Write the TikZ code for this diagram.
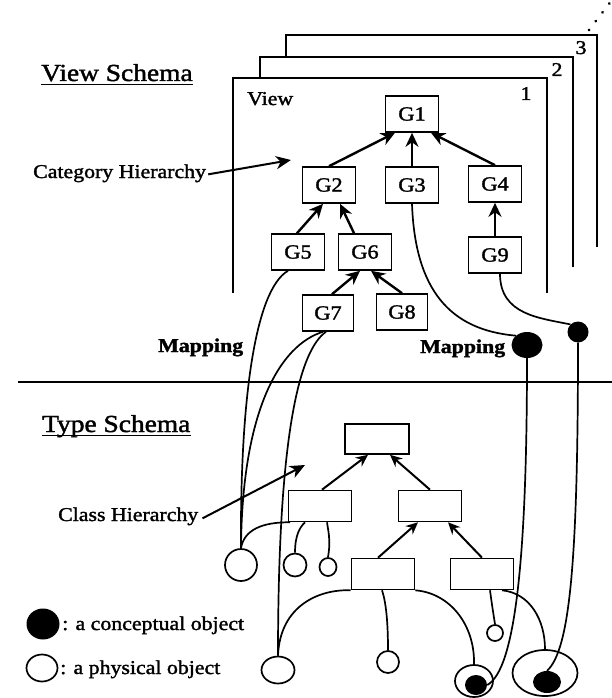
\documentclass[tikz,border=0pt]{standalone}
\usepackage{fontspec}
\setmainfont{Liberation Serif}[FakeStretch=1.12,FakeBold=1.6]
\usetikzlibrary{arrows.meta,shapes.geometric}
\newcommand\glab{\fontsize{20}{23}\selectfont}
\newcommand\txtf{\fontsize{19.5}{23}\selectfont}
\newcommand\secf{\fontsize{24.5}{28}\selectfont}
\begin{document}
\begin{tikzpicture}[x=1pt,y=-1pt,
  gbox/.style={draw,line width=1.6pt,minimum width=53pt,minimum height=36pt,inner sep=0pt,font=\glab},
  tbox/.style={draw,line width=1.6pt,minimum width=63pt,minimum height=31pt,inner sep=0pt},
  gar/.style={line width=2.4pt,-{Stealth[length=14pt,width=13pt,inset=4.5pt]}},
  tar/.style={line width=2pt,-{Stealth[length=12pt,width=11pt,inset=4pt]}},
  viewframe/.style={line width=1.7pt},
  mapline/.style={line width=1.7pt},
  pobj/.style={draw,ellipse,line width=1.7pt,inner sep=0pt},
  cobj/.style={fill=black,ellipse,inner sep=0pt},
  lbl/.style={inner sep=0pt,font=\txtf,anchor=base west},
]
\useasboundingbox (0,0) rectangle (612,698);
\fill[white] (0,0) rectangle (612,698);

% view frames
\draw[viewframe] (286,57) -- (286,35) -- (597,35) -- (597,247);
\draw[viewframe] (260,78) -- (260,57) -- (573,57) -- (573,267);
\draw[viewframe] (233,293) -- (233,78) -- (547,78) -- (547,293);
\draw[line width=3pt,dash pattern=on 0.1pt off 11pt,line cap=round] (589,30) -- (612,0);
\node[lbl,anchor=base] (n1) at (526,100) {1};
\node[lbl,anchor=base] (n2) at (557,76) {2};
\node[lbl,anchor=base] (n3) at (581,54) {3};
\node[lbl] (viewlbl) at (247,105) {View};

% section titles
\node[inner sep=0pt,anchor=base west,font=\secf] (vs) at (41,81) {View Schema};
\draw[line width=1.5pt] ([yshift=-3.5pt]vs.base west) -- ([yshift=-3.5pt]vs.base east);
\node[inner sep=0pt,anchor=base west,font=\secf] (ts) at (42,432) {Type Schema};
\draw[line width=1.5pt] ([yshift=-3.5pt]ts.base west) -- ([yshift=-3.5pt]ts.base east);

% separator
\coordinate (sepL) at (18,382);
\coordinate (sepR) at (612,382);
\draw[line width=1.6pt] (sepL) -- (sepR);

% G boxes
\node[gbox] (g1) at (412,114) {G1};
\node[gbox] (g2) at (329,185) {G2};
\node[gbox] (g3) at (412,185) {G3};
\node[gbox] (g4) at (495,184) {G4};
\node[gbox] (g9) at (495,255) {G9};
\node[gbox] (g5) at (298,252) {G5};
\node[gbox] (g6) at (365,252) {G6};
\node[gbox,minimum width=51pt] (g7) at (328,313) {G7};
\node[gbox,minimum width=51pt] (g8) at (402,312) {G8};

\draw[gar] (g2.north) -- ([xshift=-17pt]g1.south);
\draw[gar] (g3.north) -- (g1.south);
\draw[gar] (g4.north) -- ([xshift=19pt]g1.south);
\draw[gar] ([xshift=-1pt]g5.north) -- ([xshift=-6pt]g2.south);
\draw[gar] ([xshift=-11pt]g6.north) -- ([xshift=11pt]g2.south);
\draw[gar] ([xshift=4pt]g7.north) -- ([xshift=-5pt]g6.south);
\draw[gar] (g8.north) -- ([xshift=6pt]g6.south);
\draw[gar] (g9.north) -- (g4.south);

% category hierarchy label
\node[lbl] (cat) at (33,178) {Category Hierarchy};
\coordinate (catT) at (291,160);
\draw[line width=2pt,-{Stealth[length=15pt,width=13pt,inset=4.5pt]}] ([xshift=2pt,yshift=-1pt]cat.east) -- (catT);

% mapping labels
\node[lbl,font=\txtf\bfseries] (map1) at (158,352) {Mapping};
\node[lbl,font=\txtf\bfseries] (map2) at (420,353) {Mapping};

% conceptual dots (view side)
\node[cobj,minimum width=31pt,minimum height=26pt] (m1) at (527,345) {};
\node[cobj,minimum width=21pt,minimum height=21pt] (m2) at (578,332) {};

% type boxes
\node[tbox,minimum width=64pt,minimum height=30pt] (tt) at (377,439) {};
\node[tbox] (tl) at (320,506) {};
\node[tbox] (tr) at (430,506) {};
\node[tbox] (tbl) at (383,574) {};
\node[tbox] (tbr) at (482,574) {};

\draw[tar] ([xshift=2pt]tl.north) -- ([xshift=-9pt]tt.south);
\draw[tar] (tr.north) -- ([xshift=13pt]tt.south);
\draw[tar] ([xshift=-5pt]tbl.north) -- ([xshift=-12pt]tr.south);
\draw[tar] (tbr.north) -- ([xshift=18pt]tr.south);

% class hierarchy label
\node[lbl] (cls) at (58,521) {Class Hierarchy};
\coordinate (clsT) at (305,465);
\draw[line width=2pt,-{Stealth[length=15pt,width=13pt,inset=4.5pt]}] ([xshift=4pt,yshift=-2pt]cls.east) -- (clsT);

% physical objects
\node[pobj,minimum width=32pt,minimum height=32pt] (c1) at (241,565) {};
\node[pobj,minimum width=23pt,minimum height=23pt] (c2) at (295,565) {};
\node[pobj,minimum width=17pt,minimum height=18pt] (c3) at (328,567) {};
\node[pobj,minimum width=33pt,minimum height=27pt] (c4) at (278,670) {};
\node[pobj,minimum width=22pt,minimum height=22pt] (c5) at (388,662) {};
\node[pobj,minimum width=16pt,minimum height=16pt] (c6) at (495,633) {};
\node[pobj,minimum width=38pt,minimum height=32pt] (d1) at (474,681) {};
\node[cobj,minimum width=22pt,minimum height=20pt] (d1i) at (476,685) {};
\node[pobj,minimum width=65pt,minimum height=46pt] (d2) at (545,673) {};
\node[cobj,minimum width=28pt,minimum height=22pt] (d2i) at (547,682) {};

% mapping curves
\draw[mapline] ([xshift=-10pt]g5.south) .. controls (255,290) and (240,400) .. (c1.north);
\draw[mapline] ([xshift=-5pt]g7.south) .. controls (280,345) and (242,410) .. (c1.north);
\draw[mapline] ([xshift=-2pt]g7.south) .. controls (300,350) and (278,430) .. (c4.north);
\draw[mapline] (g3.south) .. controls (415,290) and (450,330) .. (m1.north west);
\draw[mapline] ([xshift=5pt]g9.south) .. controls (500,315) and (540,318) .. (m2.north west);
\draw[mapline] (m1.south) .. controls (527,560) and (515,670) .. (d1i.east);
\draw[mapline] (m2.south) .. controls (578,560) and (570,650) .. (d2i.north);

% type schema links
\draw[mapline] (c1.north) .. controls (244,530) and (262,522) .. ([xshift=-30pt]tl.south);
\draw[mapline] (c2.north) .. controls (295,535) and (300,527) .. ([xshift=-15pt]tl.south);
\draw[mapline] (c3.north) .. controls (331,540) and (328,530) .. ([xshift=7pt]tl.south);
\draw[mapline] (c4.north) .. controls (280,605) and (320,589) .. (tbl.south west);
\draw[mapline] ([xshift=-1pt]tbl.south) .. controls (387,605) and (388,630) .. (c5.north);
\draw[mapline] (tbl.south east) .. controls (450,593) and (475,625) .. (d1.north);
\draw[mapline] ([xshift=8pt]tbr.south) .. controls (492,605) .. (c6.north);
\draw[mapline] ([xshift=20pt]tbr.south) .. controls (530,593) and (545,620) .. (d2.north);

% legend
\node[cobj,minimum width=33pt,minimum height=31pt] (lg1) at (43,624) {};
\node[lbl] (lt1) at (62,630) {: a conceptual object};
\node[pobj,minimum width=31pt,minimum height=27pt] (lg2) at (42,668) {};
\node[lbl] (lt2) at (60,674) {: a physical object};
\end{tikzpicture}
\end{document}
